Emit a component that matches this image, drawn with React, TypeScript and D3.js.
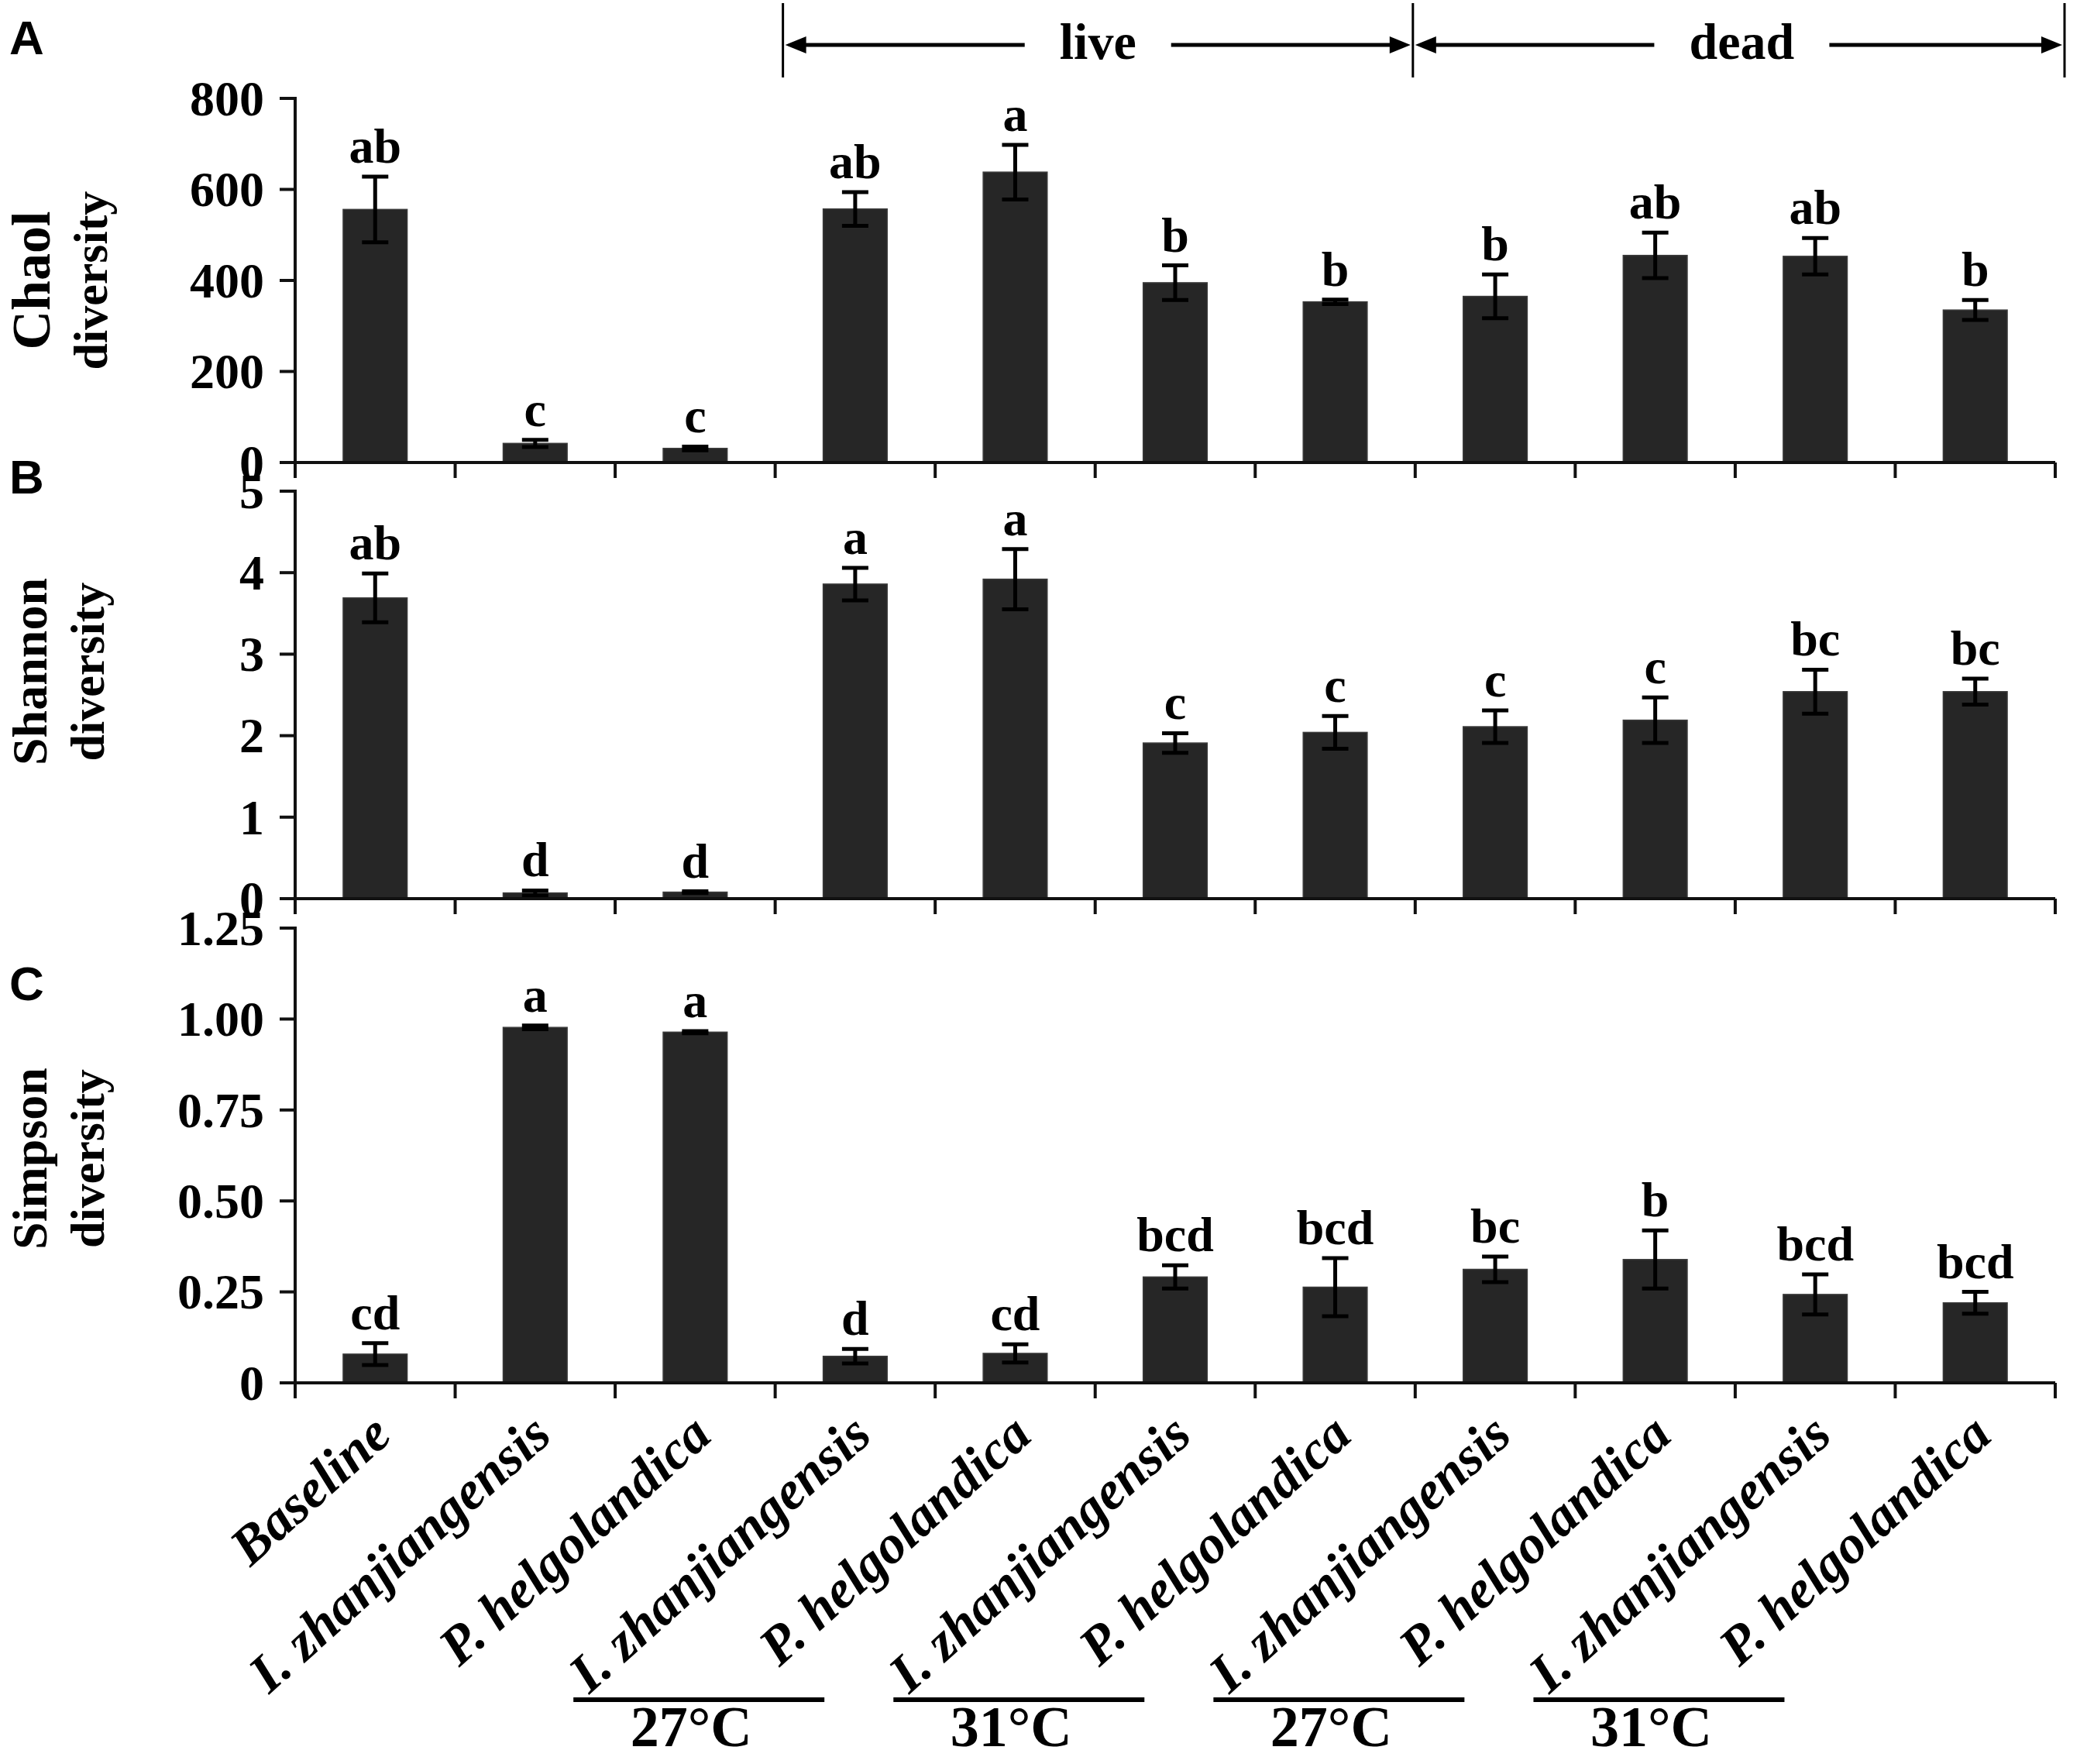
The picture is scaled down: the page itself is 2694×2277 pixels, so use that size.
import React from "react";
import * as d3 from "d3";

// ---------- data ----------
const categories = [
  "Baseline",
  "I. zhanjiangensis",
  "P. helgolandica",
  "I. zhanjiangensis",
  "P. helgolandica",
  "I. zhanjiangensis",
  "P. helgolandica",
  "I. zhanjiangensis",
  "P. helgolandica",
  "I. zhanjiangensis",
  "P. helgolandica",
];

const chao1 = [556, 42, 31, 557, 638, 395, 353, 365, 455, 453, 335];
const chao1Err = [72, 8, 4, 37, 60, 38, 5, 48, 50, 40, 22];
const chao1Letters = ["ab", "c", "c", "ab", "a", "b", "b", "b", "ab", "ab", "b"];
const chao1Ticks = [0, 200, 400, 600, 800];

const shannon = [3.69, 0.07, 0.08, 3.86, 3.92, 1.91, 2.04, 2.11, 2.19, 2.54, 2.54];
const shannonErr = [0.3, 0.03, 0.01, 0.2, 0.37, 0.12, 0.2, 0.2, 0.28, 0.27, 0.16];
const shannonLetters = ["ab", "d", "d", "a", "a", "c", "c", "c", "c", "bc", "bc"];
const shannonTicks = [0, 1, 2, 3, 4, 5];

const simpson = [0.079, 0.977, 0.964, 0.073, 0.081, 0.291, 0.263, 0.312, 0.339, 0.243, 0.22];
const simpsonErr = [0.03, 0.005, 0.003, 0.02, 0.025, 0.032, 0.08, 0.035, 0.08, 0.055, 0.03];
const simpsonLetters = ["cd", "a", "a", "d", "cd", "bcd", "bcd", "bc", "b", "bcd", "bcd"];
const simpsonTicks = [0, 0.25, 0.5, 0.75, 1.0, 1.25];

const groupBrackets = [
  { label: "live", from: 3, to: 7 },
  { label: "dead", from: 7, to: 11 },
];
const tempGroups = [
  { label: "27°C", first: 3 },
  { label: "31°C", first: 5 },
  { label: "27°C", first: 7 },
  { label: "31°C", first: 9 },
];

// ---------- layout ----------
const W = 2694;
const H = 2277;
const X0 = 381;
const X1 = 2653;
const SERIF = "'Liberation Serif','Times New Roman',serif";
const SANS = "'Liberation Sans',Arial,sans-serif";
const BAR = "#262626";
const INK = "#111";

const panels = [
  {
    letter: "A", letterY: 70, values: chao1, errs: chao1Err, letters: chao1Letters,
    ticks: chao1Ticks, max: 800, top: 127, bottom: 597,
    fmt: (d: number) => String(d), title: ["Chaol", "diversity"], titleSize: 70, titleX: 64, titleShift: 0,
  },
  {
    letter: "B", letterY: 637, values: shannon, errs: shannonErr, letters: shannonLetters,
    ticks: shannonTicks, max: 5, top: 634, bottom: 1160,
    fmt: (d: number) => String(d), title: ["Shannon", "diversity"], titleSize: 64, titleX: 60, titleShift: -30,
  },
  {
    letter: "C", letterY: 1291, values: simpson, errs: simpsonErr, letters: simpsonLetters,
    ticks: simpsonTicks, max: 1.25, top: 1198, bottom: 1785,
    fmt: (d: number) => (d === 0 ? "0" : d3.format(".2f")(d)), title: ["Simpson", "diversity"], titleSize: 64, titleX: 60, titleShift: 4,
  },
];

export default function App() {
  const idx = categories.map((_, i) => i);
  const x = d3.scaleBand<number>().domain(idx).range([X0, X1]).paddingInner(0.6).paddingOuter(0.3);
  const step = x.step();
  const bw = x.bandwidth();
  const cx = (i: number) => (x(i) as number) + bw / 2;
  const edge = (i: number) => X0 + i * step;

  const lastPanel = panels[panels.length - 1];
  const axisY = lastPanel.bottom;

  return (
    <svg
      width={W}
      height={H}
      viewBox={`0 0 ${W} ${H}`}
      style={{ position: "absolute", left: 0, top: 0, background: "#fff" }}
    >
      <rect x={0} y={0} width={W} height={H} fill="#fff" />
      {panels.map((p, pi) => {
        const y = d3.scaleLinear().domain([0, p.max]).range([p.bottom, p.top]);
        const mid = (p.top + p.bottom) / 2 + p.titleShift;
        return (
          <g key={pi}>
            {/* panel letter */}
            <text x={12} y={p.letterY} fontFamily={SANS} fontWeight="bold" fontSize={62} fill="#000">
              {p.letter}
            </text>
            {/* y title */}
            <g transform={`translate(${p.titleX},${mid}) rotate(-90)`}>
              <text x={0} y={0} textAnchor="middle" fontFamily={SERIF} fontWeight="bold" fontSize={p.titleSize} fill="#000">
                {p.title[0]}
              </text>
              <text x={0} y={74} textAnchor="middle" fontFamily={SERIF} fontWeight="bold" fontSize={62} fill="#000">
                {p.title[1]}
              </text>
            </g>
            {/* bars */}
            {p.values.map((v, i) => (
              <rect key={i} x={x(i)} y={y(v)} width={bw} height={y(0) - y(v)} fill={BAR} stroke="#3a3a3a" strokeWidth={1.5} />
            ))}
            {/* error bars */}
            {p.values.map((v, i) => {
              const hi = y(v + p.errs[i]);
              const lo = y(Math.max(0, v - p.errs[i]));
              const c = cx(i);
              return (
                <g key={i} stroke="#000" strokeWidth={5}>
                  <line x1={c} x2={c} y1={hi} y2={lo} />
                  <line x1={c - 17} x2={c + 17} y1={hi} y2={hi} />
                  <line x1={c - 17} x2={c + 17} y1={lo} y2={lo} />
                </g>
              );
            })}
            {/* significance letters */}
            {p.values.map((v, i) => (
              <text
                key={i}
                x={cx(i)}
                y={y(v + p.errs[i]) - 18}
                textAnchor="middle"
                fontFamily={SERIF}
                fontWeight="bold"
                fontSize={64}
                fill="#000"
              >
                {p.letters[i]}
              </text>
            ))}
            {/* y axis */}
            <line x1={X0} x2={X0} y1={p.top - 2} y2={p.bottom + 20} stroke={INK} strokeWidth={4} />
            {p.ticks.map((t) => (
              <g key={t}>
                <line x1={X0 - 20} x2={X0} y1={y(t)} y2={y(t)} stroke={INK} strokeWidth={4} />
                <text
                  x={X0 - 40}
                  y={y(t)}
                  dy="0.34em"
                  textAnchor="end"
                  fontFamily={SERIF}
                  fontWeight="bold"
                  fontSize={64}
                  fill="#000"
                >
                  {p.fmt(t)}
                </text>
              </g>
            ))}
            {/* x axis */}
            <line x1={X0 - 20} x2={X1} y1={p.bottom} y2={p.bottom} stroke={INK} strokeWidth={4} />
            {d3.range(1, categories.length + 1).map((k) => (
              <line key={k} x1={edge(k)} x2={edge(k)} y1={p.bottom} y2={p.bottom + 20} stroke={INK} strokeWidth={4} />
            ))}
          </g>
        );
      })}

      {/* category labels */}
      {categories.map((c, i) => (
        <text
          key={i}
          transform={`translate(${cx(i) + 24},${axisY + 72}) rotate(-42)`}
          textAnchor="end"
          fontFamily={SERIF}
          fontWeight="bold"
          fontStyle="italic"
          fontSize={70}
          fill="#000"
        >
          {c}
        </text>
      ))}

      {/* temperature groups */}
      {tempGroups.map((g, k) => {
        const m = (cx(g.first) + cx(g.first + 1)) / 2 - 305;
        return (
          <g key={k}>
            <line x1={m - 162} x2={m + 162} y1={2194} y2={2194} stroke="#000" strokeWidth={6} />
            <text x={m - 10} y={2254} textAnchor="middle" fontFamily={SERIF} fontWeight="bold" fontSize={74} fill="#000">
              {g.label}
            </text>
          </g>
        );
      })}

      {/* live / dead brackets */}
      {groupBrackets.map((b, k) => {
        const left = edge(b.from) + (k === 0 ? 10 : -3);
        const right = edge(b.to) + (k === 1 ? 12 : -3);
        const tw = b.label === "live" ? 99 : 136;
        const center = (left + right) / 2 + (k === 1 ? 4 : 0);
        const gap = tw / 2 + 45;
        const ay = 58;
        return (
          <g key={k}>
            <line x1={left} x2={left} y1={4} y2={100} stroke="#000" strokeWidth={3} />
            {k === groupBrackets.length - 1 && (
              <line x1={right} x2={right} y1={4} y2={100} stroke="#000" strokeWidth={3} />
            )}
            <line x1={left + 20} x2={center - gap} y1={ay} y2={ay} stroke="#000" strokeWidth={5} />
            <line x1={center + gap} x2={right - 20} y1={ay} y2={ay} stroke="#000" strokeWidth={5} />
            <path d={`M${left + 3},${ay} L${left + 30},${ay - 11} L${left + 30},${ay + 11} Z`} fill="#000" />
            <path d={`M${right - 3},${ay} L${right - 30},${ay - 11} L${right - 30},${ay + 11} Z`} fill="#000" />
            <text x={center} y={76} textAnchor="middle" fontFamily={SERIF} fontWeight="bold" fontSize={66} fill="#000">
              {b.label}
            </text>
          </g>
        );
      })}
    </svg>
  );
}
